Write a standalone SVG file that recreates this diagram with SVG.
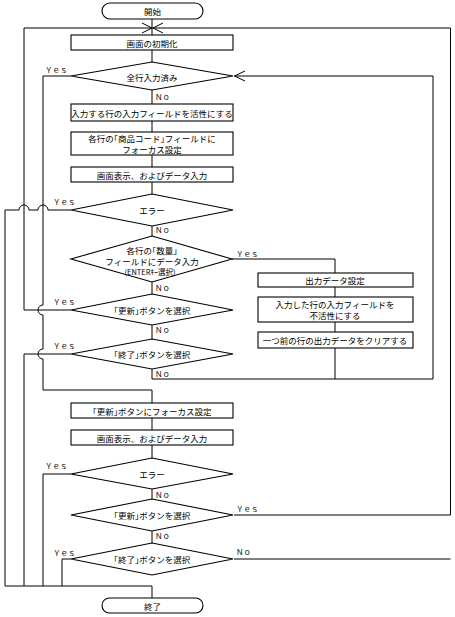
<svg xmlns="http://www.w3.org/2000/svg" width="455" height="617" viewBox="0 0 455 617">
<style>
.s{fill:#fff;stroke:#000;stroke-width:1.1}
.c{fill:none;stroke:#000;stroke-width:1}
.t{font-family:"Noto Sans CJK JP","Noto Sans",sans-serif;font-size:8.5px;fill:#000;text-anchor:middle;dominant-baseline:central}
.l{font-family:"Noto Sans CJK JP","Noto Sans",sans-serif;font-size:7.5px;fill:#000;dominant-baseline:central}
.sm{font-size:7.5px}
.h{font-feature-settings:"halt"}
</style>
<rect width="455" height="617" fill="#fff"/>
<g id="connectors" class="c">
<path d="M152,19V35M152,50V62M152,90V104M152,121V132M152,155V167M152,182V194M152,226V236M152,282V294M152,325V339M152,418V430M152,445V458M152,489V499M152,531V543"/>
<path d="M71,210H48A5,5 0 0 0 38,210H29A5,5 0 0 0 19,210H5V586"/>
<path d="M71,76H43V305A5,5 0 0 0 43,315V349A5,5 0 0 0 43,359V390H152V403"/>
<path d="M71,310H24V28H152"/>
<path d="M234,515H450.5V28H152"/>
<path d="M234,559H450.5"/>
<path d="M152,369V379H433V76H234"/>
<path d="M232,259H335V273M335,287V297M335,322V332M335,348V379"/>
<path d="M71,354H24V586M71,474H43V586M71,559H62V586M5,586H152V598"/>
<path d="M142,23L152,28L142,33M163,23L153,28L163,33"/>
<path d="M245,71L234.5,76L245,81"/>
</g>
<g id="start"><rect class="s" x="102" y="3" width="101" height="16" rx="8"/><text class="t" x="152.5" y="11">開始</text></g>
<g id="init"><rect class="s" x="71" y="35" width="162" height="15"/><text class="t" x="152" y="42.5">画面の初期化</text></g>
<g id="d1"><polygon class="s" points="152,62 233,76 152,90 71,76"/><text class="t" x="152" y="77">全行入力済み</text></g>
<g id="b1"><rect class="s" x="71" y="104" width="162" height="17"/><text class="t" x="152" y="112.5">入力する行の入力フィールドを活性にする</text></g>
<g id="b2"><rect class="s" x="71" y="132" width="162" height="23"/><text class="t h" x="152" y="138">各行の「商品コード」フィールドに</text><text class="t" x="152" y="148.5">フォーカス設定</text></g>
<g id="b3"><rect class="s" x="71" y="167" width="162" height="15"/><text class="t" x="152" y="174.5">画面表示、およびデータ入力</text></g>
<g id="d2"><polygon class="s" points="152,194 233,210 152,226 71,210"/><text class="t" x="152" y="210">エラー</text></g>
<g id="d3"><polygon class="s" points="152,236 232,259 152,282 71,259"/><text class="t h" x="152" y="249.5">各行の「数量」</text><text class="t" x="152" y="261">フィールドにデータ入力</text><text class="t sm" x="150" y="271">(ENTERｷｰ選択)</text></g>
<g id="r1"><rect class="s" x="258" y="273" width="155" height="14"/><text class="t" x="335" y="280">出力データ設定</text></g>
<g id="r2"><rect class="s" x="258" y="297" width="155" height="25"/><text class="t" x="335" y="303.5">入力した行の入力フィールドを</text><text class="t" x="335" y="315">不活性にする</text></g>
<g id="r3"><rect class="s" x="258" y="332" width="155" height="16"/><text class="t" x="335" y="340">一つ前の行の出力データをクリアする</text></g>
<g id="d4"><polygon class="s" points="152,294 233,310 152,325 71,310"/><text class="t h" x="152" y="309.5">「更新」ボタンを選択</text></g>
<g id="d5"><polygon class="s" points="152,339 233,354 152,369 71,354"/><text class="t h" x="152" y="354">「終了」ボタンを選択</text></g>
<g id="b4"><rect class="s" x="71" y="403" width="162" height="15"/><text class="t h" x="152" y="410.5">「更新」ボタンにフォーカス設定</text></g>
<g id="b5"><rect class="s" x="71" y="430" width="162" height="15"/><text class="t" x="152" y="437.5">画面表示、およびデータ入力</text></g>
<g id="d6"><polygon class="s" points="152,458 233,474 152,489 71,474"/><text class="t" x="152" y="474">エラー</text></g>
<g id="d7"><polygon class="s" points="152,499 233,515 152,531 71,515"/><text class="t h" x="152" y="515">「更新」ボタンを選択</text></g>
<g id="d8"><polygon class="s" points="152,543 233,559 152,575 71,559"/><text class="t h" x="152" y="559">「終了」ボタンを選択</text></g>
<g id="end"><rect class="s" x="102" y="598" width="101" height="15" rx="7.5"/><text class="t" x="152.5" y="605.5">終了</text></g>
<g id="labels">
<text class="l" x="45" y="69">Ｙｅｓ</text>
<text class="l" x="155" y="96">Ｎｏ</text>
<text class="l" x="53" y="201">Ｙｅｓ</text>
<text class="l" x="155" y="229">Ｎｏ</text>
<text class="l" x="236" y="253">Ｙｅｓ</text>
<text class="l" x="155" y="287">Ｎｏ</text>
<text class="l" x="53" y="301">Ｙｅｓ</text>
<text class="l" x="155" y="329">Ｎｏ</text>
<text class="l" x="53" y="345">Ｙｅｓ</text>
<text class="l" x="155" y="373">Ｎｏ</text>
<text class="l" x="45" y="465">Ｙｅｓ</text>
<text class="l" x="155" y="494">Ｎｏ</text>
<text class="l" x="236" y="508">Ｙｅｓ</text>
<text class="l" x="155" y="535">Ｎｏ</text>
<text class="l" x="53" y="552">Ｙｅｓ</text>
<text class="l" x="236" y="551">Ｎｏ</text>
</g>
</svg>
